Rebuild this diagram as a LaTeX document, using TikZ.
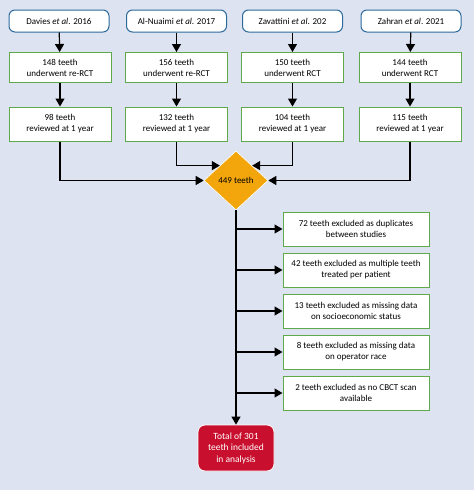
\documentclass[tikz,border=0pt]{standalone}
\usepackage{fontspec}
\setmainfont{Carlito}
\usetikzlibrary{shapes.geometric,arrows.meta}
\definecolor{bgblue}{HTML}{DDE3F1}
\definecolor{studyblue}{HTML}{2C6A9C}
\definecolor{boxgreen}{HTML}{5EA94C}
\definecolor{poolorange}{HTML}{F2A60C}
\definecolor{totalred}{HTML}{C8102E}
\tikzset{
  study/.style={draw=studyblue,line width=1pt,fill=white,rounded corners=6pt,
    minimum width=100pt,minimum height=22pt,inner sep=0pt,font=\fontsize{9}{11}\selectfont},
  count/.style={draw=boxgreen,line width=1pt,fill=white,minimum width=102pt,
    minimum height=30pt,inner sep=0pt,align=center,font=\fontsize{9}{11}\selectfont},
  excl/.style={draw=boxgreen,line width=1pt,fill=white,minimum width=146pt,
    minimum height=34pt,inner sep=0pt,align=center,font=\fontsize{9}{11}\selectfont},
  pool/.style={diamond,draw=white,line width=0.6pt,fill=poolorange,minimum width=64pt,
    minimum height=59pt,inner sep=0pt,font=\fontsize{9}{11}\selectfont},
  total/.style={draw=white,line width=0.8pt,fill=totalred,text=white,rounded corners=7pt,
    minimum width=76pt,minimum height=46pt,inner sep=0pt,align=center,
    font=\fontsize{9.5}{11.5}\selectfont},
  arr/.style={line width=1.2pt,-{Triangle[length=8pt,width=9pt]}}
}
\begin{document}
\begin{tikzpicture}[x=1pt,y=-1pt]
	\fill[bgblue] (0,0) rectangle (474,490);

	% studies
	\draw (59,21) node (s1)[study]{Davies \textit{et al}. 2016};
	\draw (176.5,21) node (s2)[study]{Al-Nuaimi \textit{et al}. 2017};
	\draw (292.5,21) node (s3)[study]{Zavattini \textit{et al}. 202};
	\draw (411,21) node (s4)[study]{Zahran \textit{et al}. 2021};

	\draw (60,67.5) node (n1)[count]{148 teeth\\underwent re-RCT};
	\draw (176.5,67.5) node (n2)[count]{156 teeth\\underwent re-RCT};
	\draw (292.5,67.5) node (n3)[count]{150 teeth\\underwent RCT};
	\draw (410,67.5) node (n4)[count]{144 teeth\\underwent RCT};

	\draw (60,124) node (r1)[count,minimum height=34pt]{98 teeth\\reviewed at 1 year};
	\draw (176.5,124) node (r2)[count,minimum height=34pt]{132 teeth\\reviewed at 1 year};
	\draw (292.5,124) node (r3)[count,minimum height=34pt]{104 teeth\\reviewed at 1 year};
	\draw (410,124) node (r4)[count,minimum height=34pt]{115 teeth\\reviewed at 1 year};

	\draw[arr] (s1)--(n1);
	\draw[arr] (s2)--(n2);
	\draw[arr] (s3)--(n3);
	\draw[arr] (s4)--(n4);
	\draw[arr] (n1)--(r1);
	\draw[arr] (n2)--(r2);
	\draw[arr] (n3)--(r3);
	\draw[arr] (n4)--(r4);

	% pooled
	\draw (236,180.5) node (d)[pool]{449 teeth};
	\draw[arr] (r1.south) |- (d.west);
	\draw[arr] (r2.south) |- (d.north west);
	\draw[arr] (r3.south) |- (d.north east);
	\draw[arr] (r4.south) |- (d.east);

	% exclusions
	\draw (356,229) node (e1)[excl]{72 teeth excluded as duplicates\\between studies};
	\draw (356,270) node (e2)[excl]{42 teeth excluded as multiple teeth\\treated per patient};
	\draw (356,311) node (e3)[excl]{13 teeth excluded as missing data\\on socioeconomic status};
	\draw (356,352) node (e4)[excl]{8 teeth excluded as missing data\\on operator race};
	\draw (356,393) node (e5)[excl]{2 teeth excluded as no CBCT scan\\available};

	\draw (236,448) node (t)[total]{Total of 301\\teeth included\\in analysis};

	\draw[arr] (d.south)--(t.north);
	\draw[arr] (d.south |- e1.west)--(e1.west);
	\draw[arr] (d.south |- e2.west)--(e2.west);
	\draw[arr] (d.south |- e3.west)--(e3.west);
	\draw[arr] (d.south |- e4.west)--(e4.west);
	\draw[arr] (d.south |- e5.west)--(e5.west);
\end{tikzpicture}
\end{document}
